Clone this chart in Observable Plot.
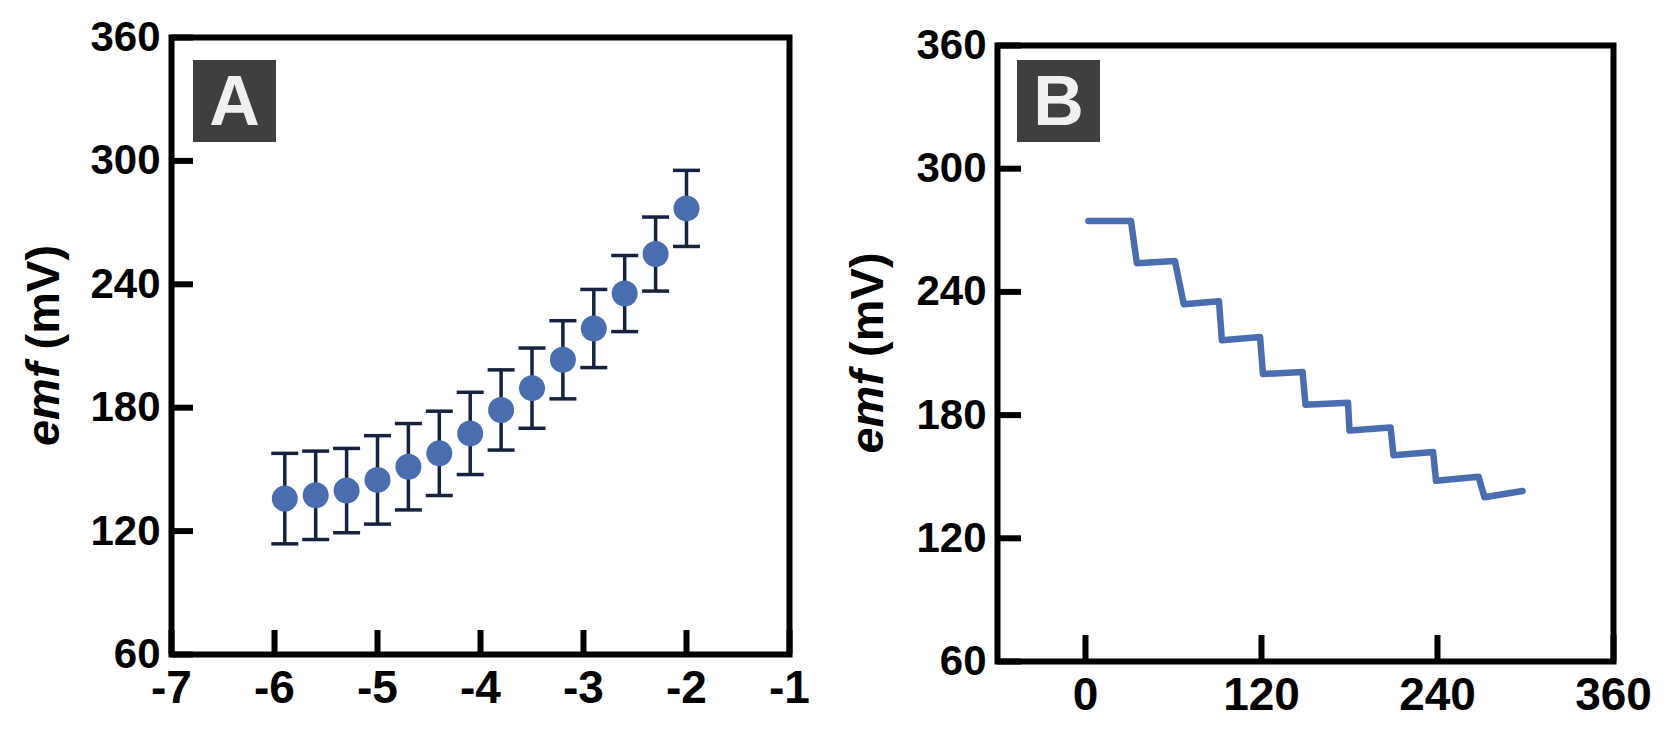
<!DOCTYPE html>
<html>
<head>
<meta charset="utf-8">
<script src="https://cdn.jsdelivr.net/npm/d3@7"></script>
<script src="https://cdn.jsdelivr.net/npm/@observablehq/plot@0.6"></script>
<style>
  html, body { margin: 0; padding: 0; background: #fff; }
  #wrap { position: relative; width: 1667px; height: 730px; overflow: hidden; }
  #wrap svg { position: absolute; top: 0; }
</style>
</head>
<body>
<div id="wrap"></div>
<script>
// ---------- Panel A data ----------
const xTicksA = [-7, -6, -5, -4, -3, -2, -1];
const yTicks = [60, 120, 180, 240, 300, 360];
const logA = [-5.9, -5.6, -5.3, -5.0, -4.7, -4.4, -4.1, -3.8, -3.5, -3.2, -2.9, -2.6, -2.3, -2.0];
const emfA = [135.8, 137.4, 139.7, 144.9, 151.3, 157.8, 167.5, 178.9, 189.5, 203.3, 218.5, 235.5, 254.7, 276.9];
const sdA  = [22, 21.5, 20.5, 21.5, 21, 20.5, 20, 19.5, 19.5, 19, 19, 18.5, 18, 18.5];

// ---------- Panel B data ----------
const xTicksB = [0, 120, 240, 360];
const timeB = [2, 31, 35, 61, 67, 91, 93, 119, 121, 148, 150, 179, 180, 208, 210, 237, 239, 268, 272, 298];
const emfB  = [274.5, 274.5, 254, 255, 234, 235.5, 216.5, 218, 200, 201, 185, 186, 172.5, 174, 160.5, 162, 148, 150, 140, 143];

const tableA = logA.map((x, i) => ({x, y: emfA[i], lo: emfA[i] - sdA[i], hi: emfA[i] + sdA[i]}));
const tableB = timeB.map((t, i) => ({t, y: emfB[i]}));

const FONT = "'Liberation Sans', Arial, Helvetica, sans-serif";
const BLUE = "#4a6db0";
const NAVY = "#16223f";

const capSymbol = {
  draw(context, size) {
    const w = Math.sqrt(size / Math.PI);
    context.moveTo(-w, 0);
    context.lineTo(w, 0);
  }
};

function decorate(svg, box, letter, title) {
  const s = d3.select(svg);
  s.append("rect").attr("x", box.x).attr("y", box.y).attr("width", box.w).attr("height", box.h).attr("fill", "#3f3f42");
  s.append("text").attr("x", box.x + box.w / 2).attr("y", box.y + 65)
    .attr("text-anchor", "middle").attr("fill", "#f0f0f0")
    .style("font-family", FONT).style("font-size", "70px").style("font-weight", "bold")
    .text(letter);
  const t = s.append("text")
    .attr("transform", `translate(${title.x},${title.y}) rotate(-90)`)
    .attr("text-anchor", "middle").attr("dominant-baseline", "central")
    .style("font-family", FONT).style("font-size", "47px").style("font-weight", "bold").attr("fill", "#000");
  t.append("tspan").style("font-style", "italic").text("emf");
  t.append("tspan").text(" (mV)");
}

// ---------- Panel A ----------
const WA = 833, H = 730;
const mA = {left: 171, right: WA - 789, top: 37, bottom: H - 654};
const innerWA = WA - mA.left - mA.right, innerHA = H - mA.top - mA.bottom;

const plotA = Plot.plot({
  width: WA, height: H,
  marginLeft: mA.left, marginRight: mA.right, marginTop: mA.top, marginBottom: mA.bottom,
  style: {fontFamily: FONT, background: "transparent", overflow: "visible", color: "#000"},
  x: {domain: [-7, -1], axis: null},
  y: {domain: [60, 360], axis: null},
  marks: [
    Plot.axisX(xTicksA, {tickSize: 0, tickPadding: 16, fontSize: 46, fontWeight: "bold", label: null, tickFormat: d => d}),
    Plot.axisY(yTicks, {tickSize: 0, tickPadding: 11, fontSize: 42, fontWeight: "bold", label: null}),
    Plot.tickX(xTicksA, {x: d => d, insetTop: innerHA - 24, strokeWidth: 6, stroke: "#000"}),
    Plot.tickY(yTicks, {y: d => d, insetRight: innerWA - 22, strokeWidth: 6, stroke: "#000"}),
    Plot.ruleX(tableA, {x: "x", y1: "lo", y2: "hi", stroke: NAVY, strokeWidth: 3.5}),
    Plot.dot(tableA, {x: "x", y: "hi", symbol: capSymbol, r: 13.5, stroke: NAVY, strokeWidth: 3.5, fill: "none"}),
    Plot.dot(tableA, {x: "x", y: "lo", symbol: capSymbol, r: 13.5, stroke: NAVY, strokeWidth: 3.5, fill: "none"}),
    Plot.dot(tableA, {x: "x", y: "y", r: 13, fill: BLUE, stroke: "none"}),
    Plot.frame({stroke: "#000", strokeWidth: 6})
  ]
});
plotA.style.left = "0px";
decorate(plotA, {x: 193, y: 60, w: 83, h: 82}, "A", {x: 42, y: 345.5});
document.getElementById("wrap").appendChild(plotA);

// ---------- Panel B ----------
const WB = 1667 - WA;
const offB = WA;
const mB = {left: 997 - offB, right: 1667 - 1613, top: 45, bottom: H - 661};
const innerWB = WB - mB.left - mB.right, innerHB = H - mB.top - mB.bottom;

const plotB = Plot.plot({
  width: WB, height: H,
  marginLeft: mB.left, marginRight: mB.right, marginTop: mB.top, marginBottom: mB.bottom,
  style: {fontFamily: FONT, background: "transparent", overflow: "visible", color: "#000"},
  x: {domain: [-60, 360], axis: null},
  y: {domain: [60, 360], axis: null},
  marks: [
    Plot.axisX(xTicksB, {tickSize: 0, tickPadding: 16, fontSize: 46, fontWeight: "bold", label: null}),
    Plot.axisY(yTicks, {tickSize: 0, tickPadding: 11, fontSize: 42, fontWeight: "bold", label: null}),
    Plot.tickX(xTicksB, {x: d => d, insetTop: innerHB - 26, strokeWidth: 6, stroke: "#000"}),
    Plot.tickY(yTicks, {y: d => d, insetRight: innerWB - 24, strokeWidth: 6, stroke: "#000"}),
    Plot.line(tableB, {x: "t", y: "y", stroke: BLUE, strokeWidth: 6.5, strokeLinecap: "round", strokeLinejoin: "round"}),
    Plot.frame({stroke: "#000", strokeWidth: 6})
  ]
});
plotB.style.left = offB + "px";
decorate(plotB, {x: 1017 - offB, y: 60, w: 83, h: 82}, "B", {x: 866 - offB, y: 353});
document.getElementById("wrap").appendChild(plotB);
</script>
</body>
</html>
